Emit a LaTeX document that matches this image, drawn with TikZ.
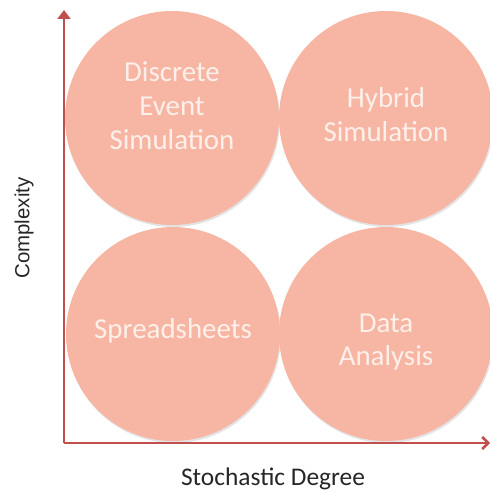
\documentclass[tikz,border=0pt]{standalone}
\usepackage{fontspec}
\setmainfont{Carlito}
\newfontfamily\arialfont{Liberation Sans}
\usetikzlibrary{arrows.meta,shadows}
\definecolor{bubble}{HTML}{F7B6A3}
\definecolor{bubbletext}{HTML}{FDF0EB}
\definecolor{axisred}{HTML}{C0504D}
\definecolor{labelgray}{HTML}{262626}
\tikzset{
  bubble/.style={circle, fill=bubble, minimum size=214bp, inner sep=0pt,
    drop shadow={opacity=0.22, shadow xshift=1pt, shadow yshift=-2pt}},
  bubblelabel/.style={text=bubbletext, align=center, inner sep=0pt,
    font=\fontsize{29}{34}\selectfont},
  axisline/.style={draw=axisred, line width=2.6bp},
  axislabel/.style={text=labelgray}
}
\begin{document}
\begin{tikzpicture}[x=1bp,y=-1bp]
  \useasboundingbox (0,0) rectangle (490,493);
  % quadrant bubbles
  \node[bubble] (des) at (172,118) {};
  \node[bubble] (hyb) at (386,118) {};
  \node[bubble] (spr) at (173,334) {};
  \node[bubble] (dat) at (386,334) {};
  % bubble captions
  \node[bubblelabel] (desl) at ([yshift=12bp]des.center) {Discrete\\Event\\Simulation};
  \node[bubblelabel] (hybl) at ([yshift=3bp]hyb.center) {Hybrid\\Simulation};
  \node[bubblelabel] (sprl) at ([yshift=3bp]spr.center) {Spreadsheets};
  \node[bubblelabel] (datl) at ([yshift=-8bp]dat.center) {Data\\Analysis};
  % axes
  \coordinate (origin) at (64,443);
  \coordinate (ytop) at (64,10);
  \coordinate (xend) at (490,443);
  \draw[axisline, -{Triangle[length=9bp,width=13bp]}] (origin) -- (ytop);
  \draw[axisline, -{Straight Barb[length=6bp,width=12bp]}] (origin) -- (xend);
  % axis titles
  \node[axislabel, rotate=90, font=\arialfont\fontsize{20.5}{24}\selectfont] (ylab) at (24,228) {Complexity};
  \node[axislabel, font=\fontsize{25.5}{30}\selectfont] (xlab) at (273,479) {Stochastic Degree};
\end{tikzpicture}
\end{document}
